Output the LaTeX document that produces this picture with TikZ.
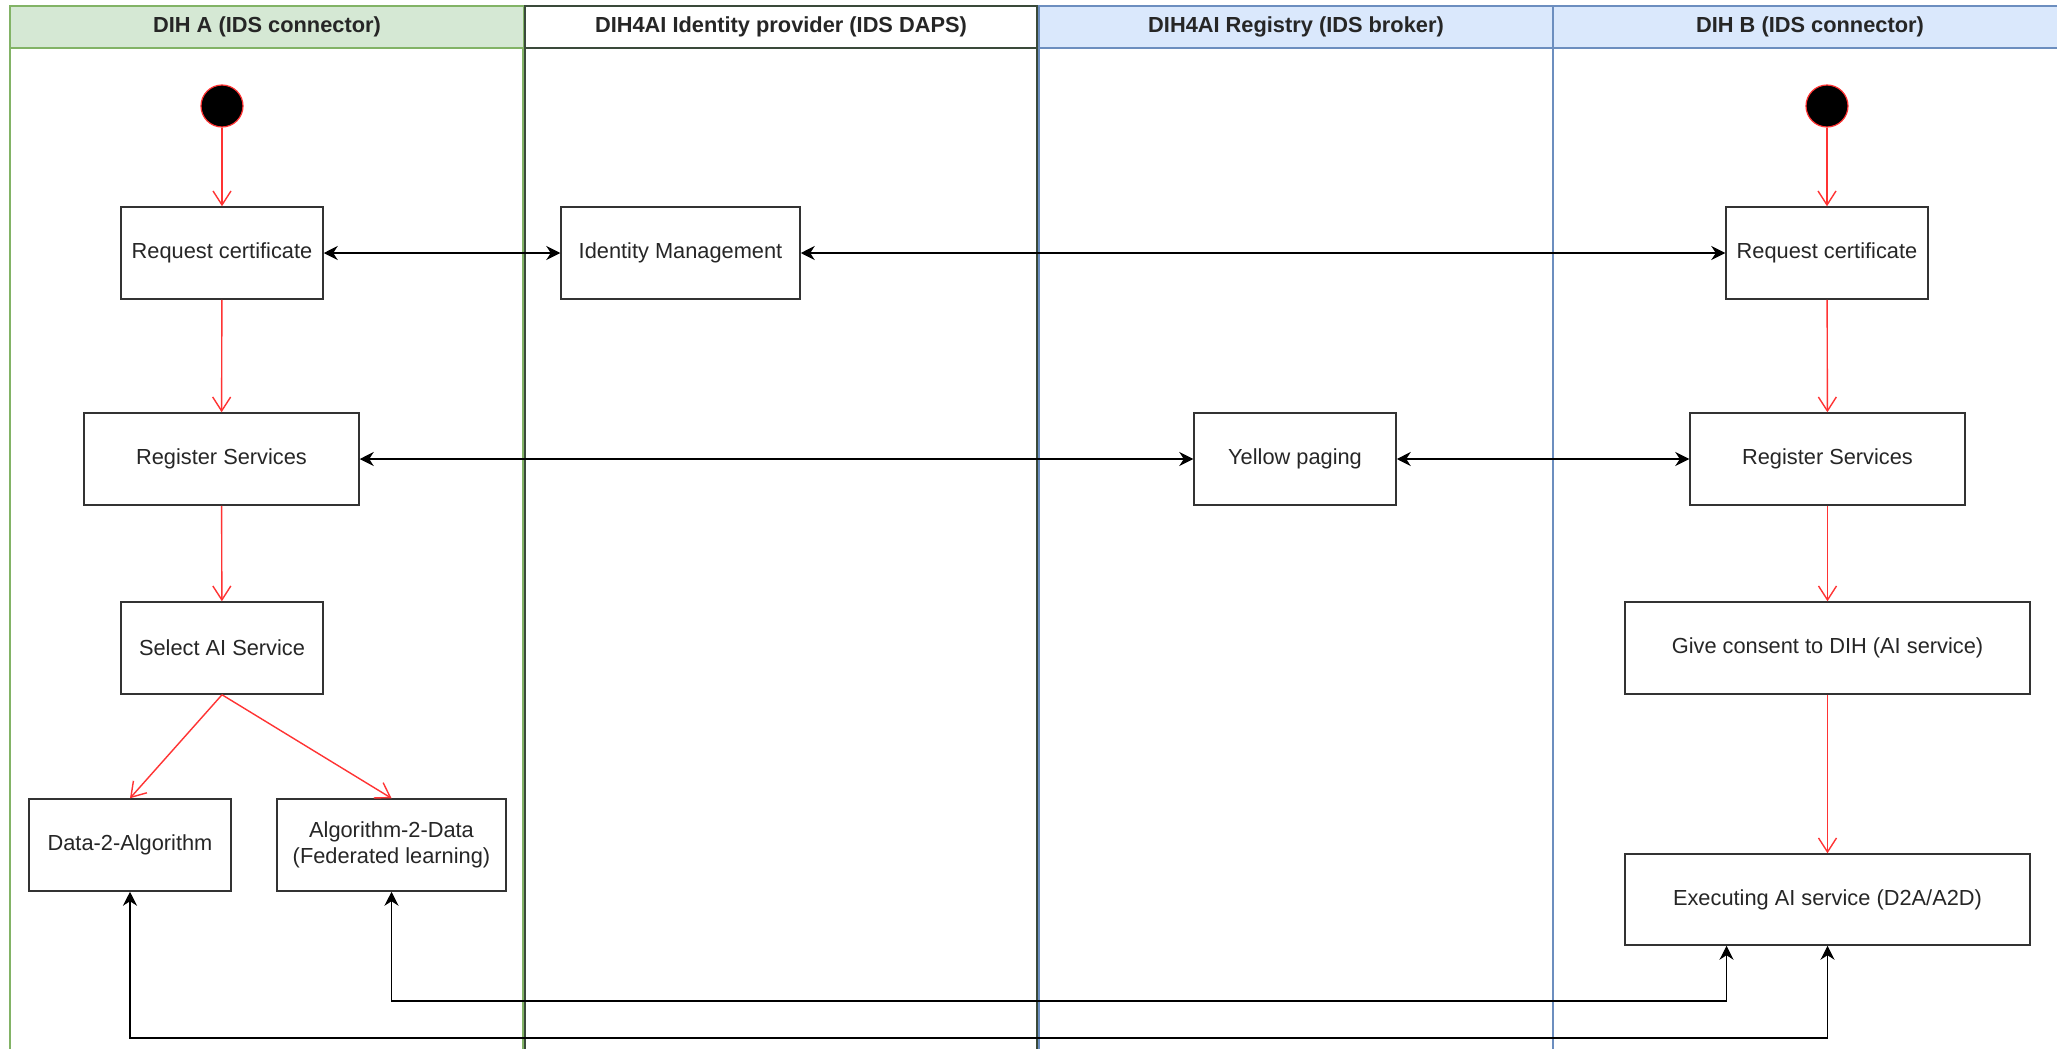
\documentclass[tikz,border=0pt]{standalone}
\usepackage{fontspec}
\setmainfont{Liberation Sans}
\usetikzlibrary{arrows.meta}
\definecolor{laneGreen}{HTML}{D5E8D4}\definecolor{laneGreenLine}{HTML}{82B366}
\definecolor{laneBlue}{HTML}{DAE8FC}\definecolor{laneBlueLine}{HTML}{6C8EBF}
\definecolor{laneDark}{HTML}{3A4A3A}
\definecolor{flowRed}{HTML}{FF3333}

\begin{document}
\begin{tikzpicture}[x=.5pt,y=-.5pt,font=\fontsize{10.9}{13}\selectfont,
  lane/.style={line width=.8pt},
  head/.style={font=\fontsize{10.9}{13}\selectfont\bfseries,text=black!85},
  act/.style={draw=black!80,line width=.75pt,fill=white,minimum height=46pt,inner sep=0pt,align=center,text=black!85},
  start/.style={circle,fill=black,draw=flowRed,line width=.6pt,minimum size=21pt,inner sep=0pt},
  flow/.style={draw=flowRed,line width=.7pt,-{Straight Barb[length=7pt,width=9pt]}},
  msg/.style={draw=black,line width=.6pt,{Stealth[length=7pt,width=7pt]}-{Stealth[length=7pt,width=7pt]}}]
\useasboundingbox (0,0) rectangle (2057,1049);
\fill[white] (0,0) rectangle (2057,1049);
% swimlanes
\filldraw[lane,fill=laneGreen,draw=laneGreenLine] (10,6) rectangle (524,48);
\draw[lane,draw=laneGreenLine] (10,48)--(10,1049) (523,48)--(523,1049);
\filldraw[lane,fill=laneBlue,draw=laneBlueLine] (1553,6) rectangle (2070,48);
\draw[lane,draw=laneBlueLine] (1553,48)--(1553,1049);
\filldraw[lane,fill=laneBlue,draw=laneBlueLine] (1039,6) rectangle (1553,48);
\draw[lane,draw=laneBlueLine] (1039,48)--(1039,1049);
\draw[lane,draw=laneDark] (525,1049)--(525,6)--(1037,6)--(1037,1049) (525,48)--(1037,48);
\node[head] (hA) at (267,27) {DIH A (IDS connector)};
\node[head] (hD) at (781,27) {DIH4AI Identity provider (IDS DAPS)};
\node[head] (hR) at (1296,27) {DIH4AI Registry (IDS broker)};
\node[head] (hB) at (1810,27) {DIH B (IDS connector)};
% DIH A
\node[start] (sA) at (222,106) {};
\node[act,minimum width=101pt] (reqA) at (222,253) {Request certificate};
\node[act,minimum width=137.5pt] (regA) at (221.5,459) {Register Services};
\node[act,minimum width=101pt] (sel) at (222,648) {Select AI Service};
\node[act,minimum width=101pt] (d2a) at (130,845) {Data-2-Algorithm};
\node[act,minimum width=114.5pt] (a2d) at (391.5,845) {Algorithm-2-Data\\(Federated learning)};
% DAPS and broker
\node[act,minimum width=119.5pt] (idm) at (680.5,253) {Identity Management};
\node[act,minimum width=101pt] (yp) at (1295,459) {Yellow paging};
% DIH B
\node[start] (sB) at (1827,106) {};
\node[act,minimum width=101pt] (reqB) at (1827,253) {Request certificate};
\node[act,minimum width=137.5pt] (regB) at (1827.5,459) {Register Services};
\node[act,minimum width=202.5pt] (cons) at (1827.5,648) {Give consent to DIH (AI service)};
\node[act,minimum width=202.5pt,minimum height=45.5pt] (exe) at (1827.5,899.5) {Executing AI service (D2A/A2D)};
\coordinate (lowA) at (0,1001);\coordinate (lowB) at (0,1038);
% connectors
\draw[flow] (sA)--(reqA);\draw[flow] (reqA)--(regA);\draw[flow] (regA)--(sel);
\draw[flow] (sel.south)--(d2a.north);\draw[flow] (sel.south)--(a2d.north);
\draw[flow] (sB)--(reqB);\draw[flow] (reqB)--(regB);\draw[flow] (regB)--(cons);\draw[flow] (cons)--(exe);
\draw[msg] (reqA)--(idm);\draw[msg] (idm)--(reqB);
\draw[msg] (regA)--(yp);\draw[msg] (yp)--(regB);
\draw[msg] (a2d.south)--(a2d.south|-lowA)-|([xshift=-50.5pt]exe.south);
\draw[msg] (d2a.south)--(d2a.south|-lowB)-|(exe.south);
\end{tikzpicture}
\end{document}
